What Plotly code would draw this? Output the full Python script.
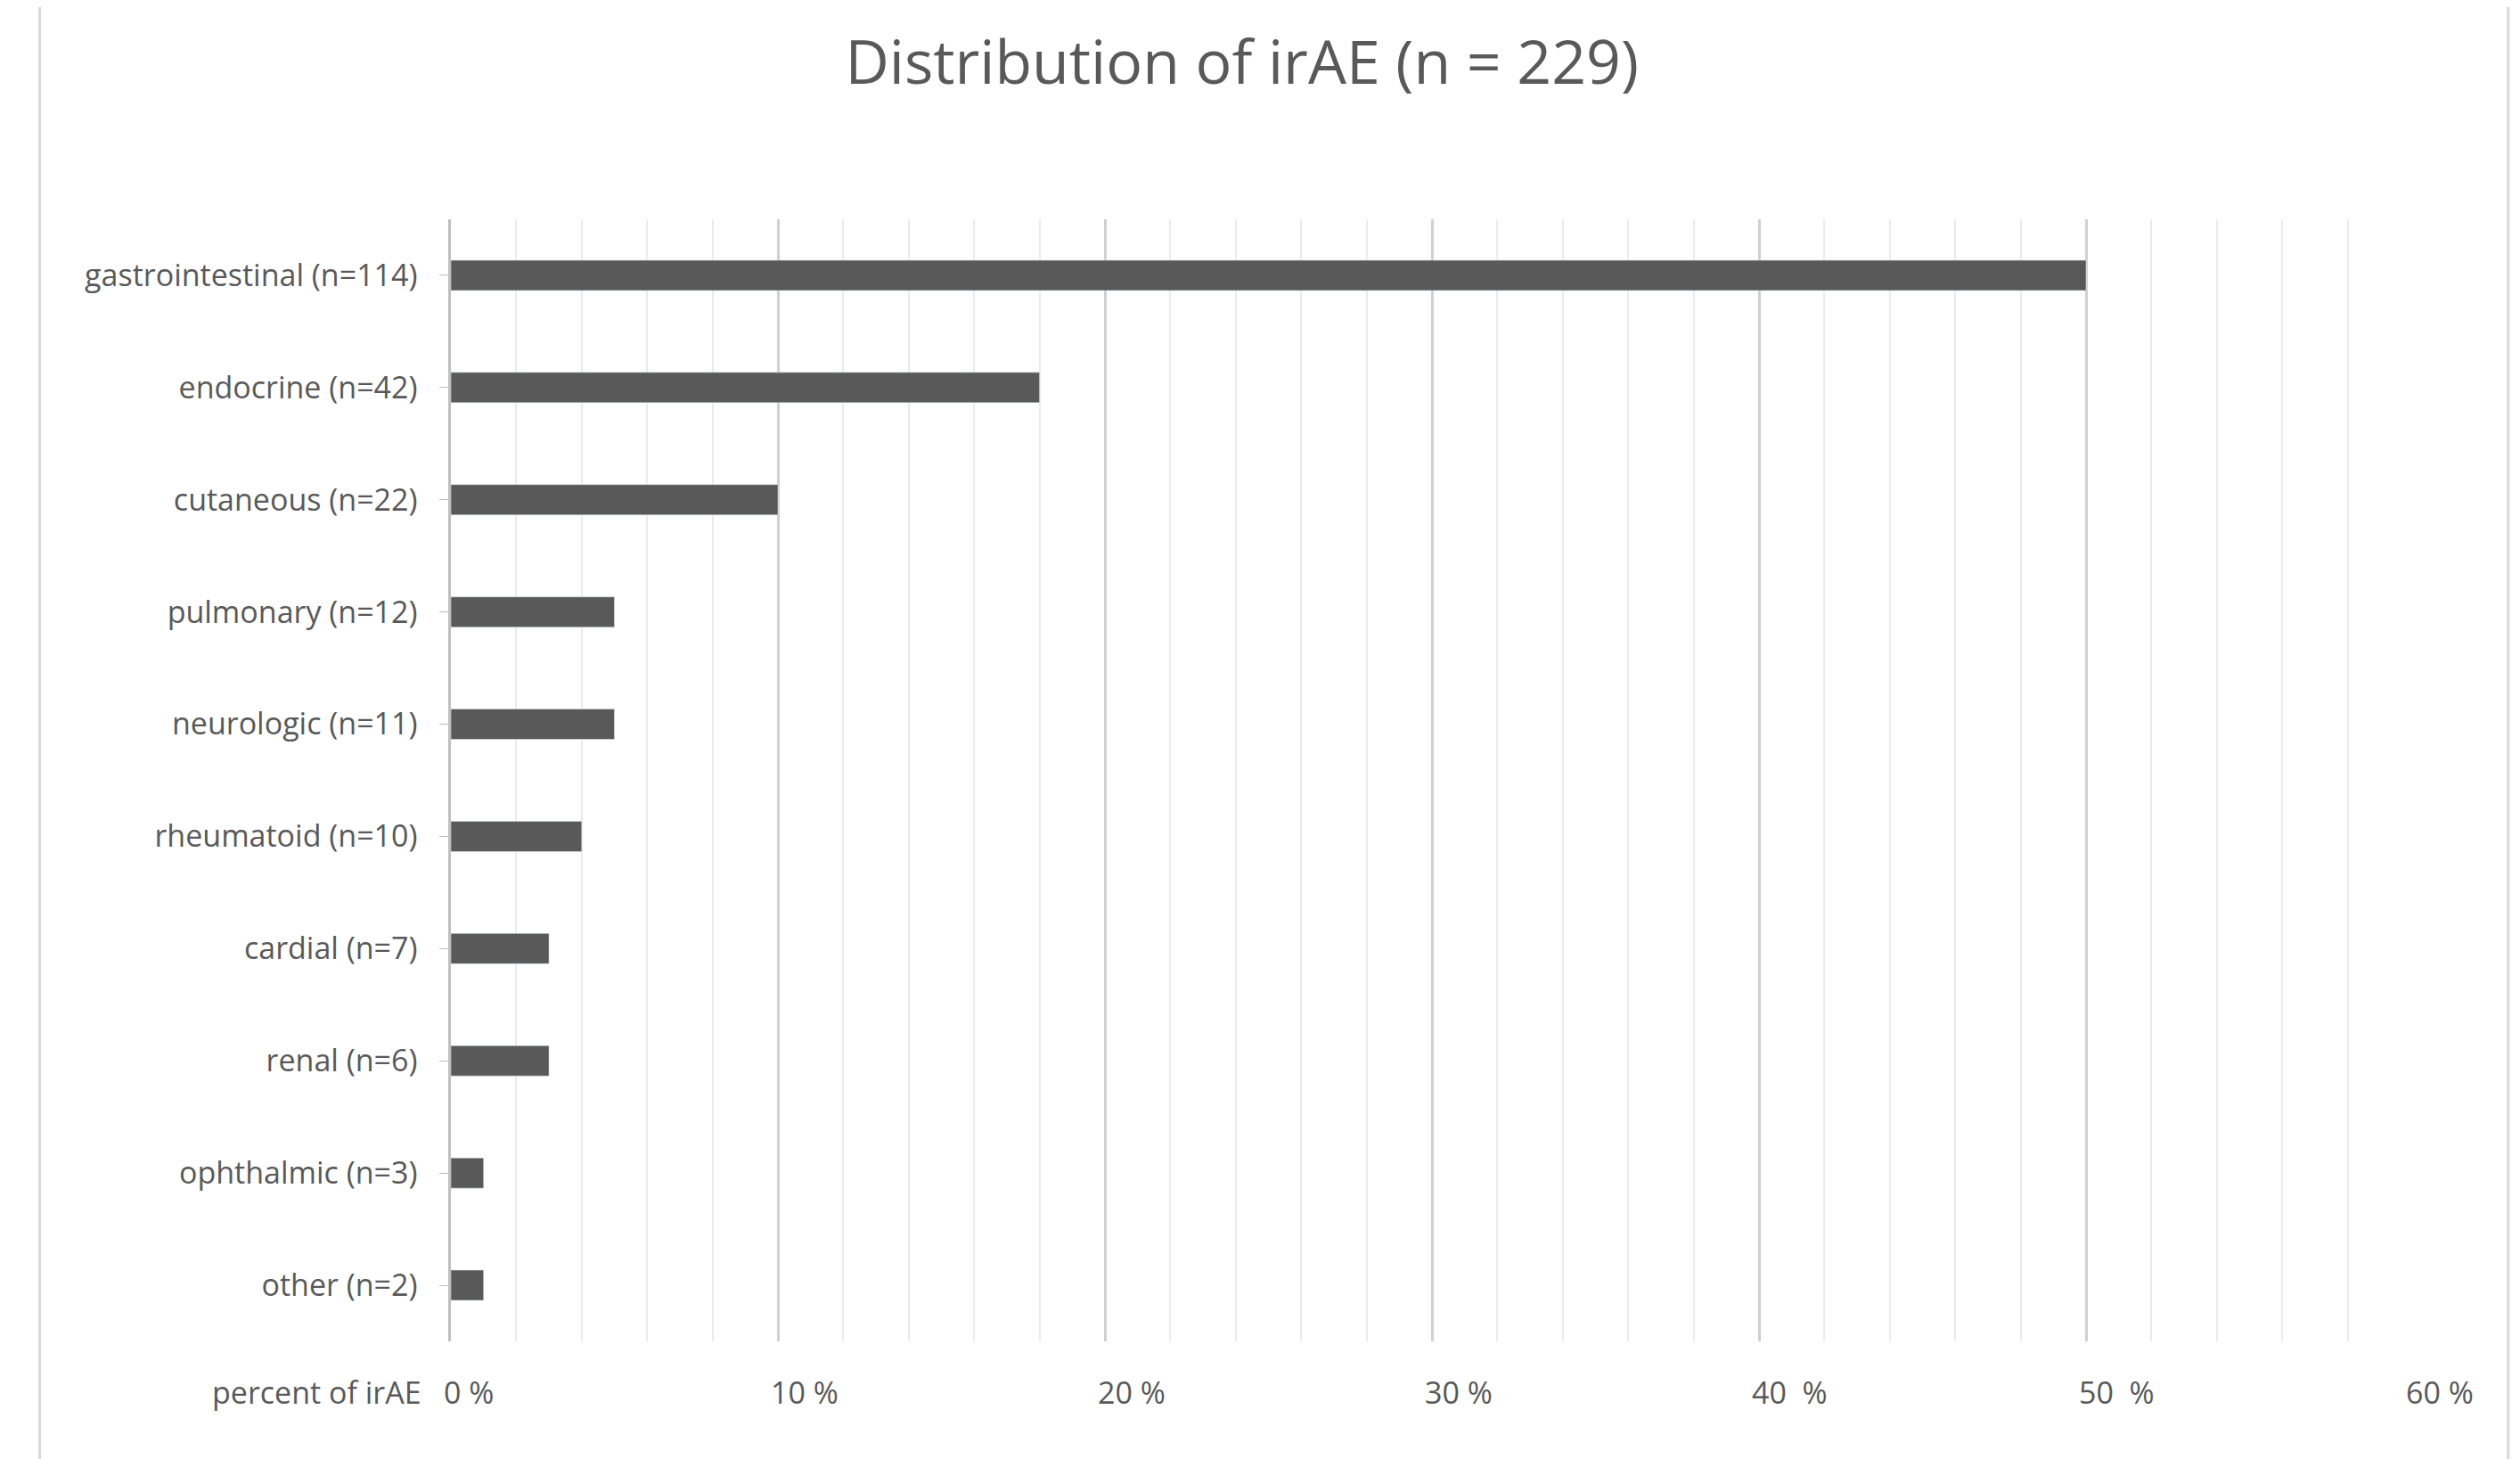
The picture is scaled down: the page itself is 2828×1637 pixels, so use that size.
import plotly.graph_objects as go

categories = ["gastrointestinal (n=114)", "endocrine (n=42)", "cutaneous (n=22)", "pulmonary (n=12)",
              "neurologic (n=11)", "rheumatoid (n=10)", "cardial (n=7)", "renal (n=6)",
              "ophthalmic (n=3)", "other (n=2)"]
values = [50, 18, 10, 5, 5, 4, 3, 3, 1, 1]
tick_vals = [0, 10, 20, 30, 40, 50, 60]
tick_text = ["0 %", "10 %", "20 %", "30 %", "40  %", "50  %", "60 %"]

col = "#595959"
font = "Open Sans"
fig = go.Figure(go.Bar(x=values, y=categories, orientation="h", marker_color="#595959",
                       width=0.27))
fig.update_layout(
    width=2828, height=1637, paper_bgcolor="white", plot_bgcolor="white",
    margin=dict(l=498, r=128, t=238, b=140),
    showlegend=False, bargap=0.73,
    title=dict(text="Distribution of irAE (n = 229)", x=0.49, xanchor="center", y=0.962, yanchor="middle",
               font=dict(family=font, size=68, color=col)),
    font=dict(family=font, color=col, size=33),
)
fig.update_xaxes(range=[0, 60], tickvals=tick_vals, showticklabels=False,
                 showgrid=True, gridcolor="#d0d0d0", gridwidth=3, zeroline=False,
                 minor=dict(dtick=2, showgrid=True, gridcolor="#ebebeb", gridwidth=2))
fig.update_yaxes(categoryorder="array", categoryarray=categories[::-1], showline=True,
                 linecolor="#bfbfbf", linewidth=3, ticks="outside", ticklen=10, tickcolor="#bfbfbf",
                 tickfont=dict(size=34, color=col), ticksuffix="  ", showgrid=False)
for v, t in zip(tick_vals, tick_text):
    fig.add_annotation(x=v, y=-0.045, xref="x", yref="paper", text=t, showarrow=False,
                       xanchor="left", yanchor="middle", xshift=-10, font=dict(size=34, color=col))
fig.add_annotation(x=-0.014, y=-0.045, xref="paper", yref="paper", text="percent of irAE", showarrow=False,
                   xanchor="right", yanchor="middle", font=dict(size=34, color=col))
fig.add_shape(type="rect", xref="paper", yref="paper", x0=-0.2095, x1=1.0485, y0=-0.1535, y1=1.2103,
              line=dict(color="#d9d9d9", width=3))
fig.write_html("out.html")
